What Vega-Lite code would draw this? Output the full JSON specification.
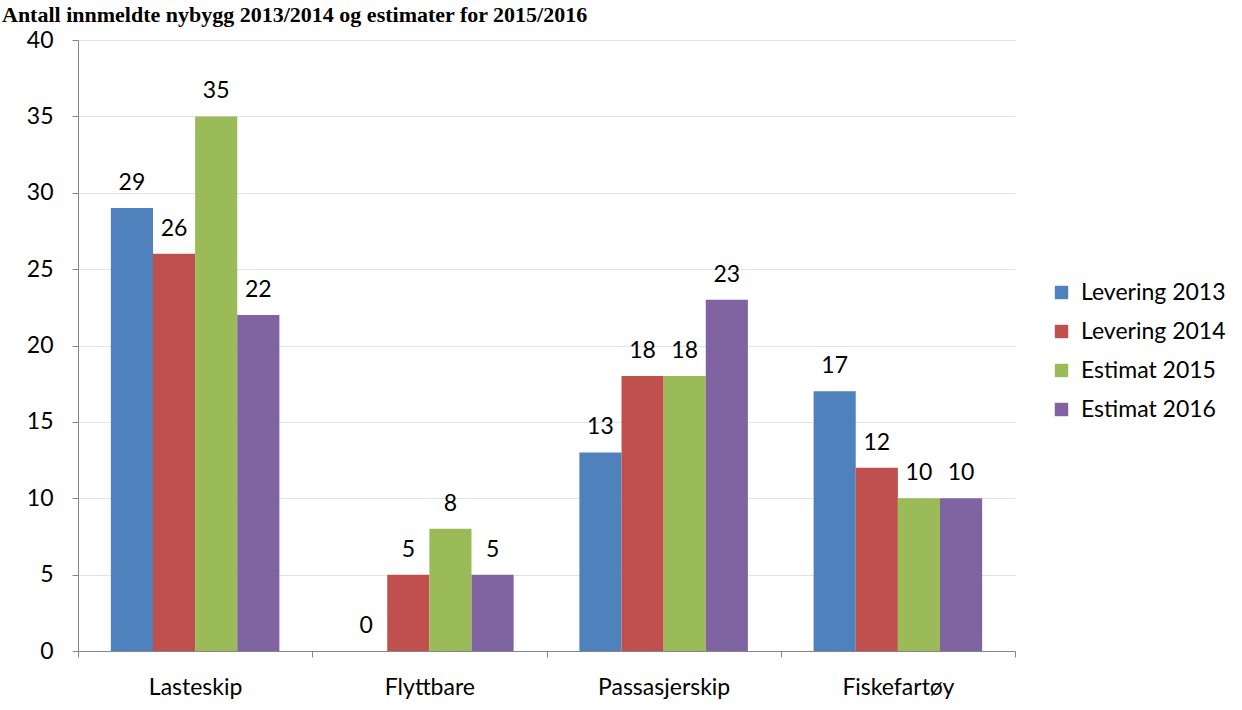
{
  "$schema": "https://vega.github.io/schema/vega-lite/v6.json",
  "width": 937,
  "height": 611,
  "autosize": {"type": "none"},
  "padding": {"left": 78, "top": 40, "right": 227, "bottom": 59},
  "background": "white",
  "title": {
    "text": "Antall innmeldte nybygg 2013/2014 og estimater for 2015/2016",
    "anchor": "start",
    "frame": "group",
    "font": "Liberation Serif",
    "fontSize": 22,
    "fontWeight": "bold",
    "color": "black",
    "baseline": "alphabetic",
    "offset": -15,
    "dx": -76
  },
  "config": {
    "view": {"stroke": null},
    "font": "Lato"
  },
  "data": {
    "values": [
      {"kategori": "Lasteskip", "serie": "Levering 2013", "antall": 29},
      {"kategori": "Lasteskip", "serie": "Levering 2014", "antall": 26},
      {"kategori": "Lasteskip", "serie": "Estimat 2015", "antall": 35},
      {"kategori": "Lasteskip", "serie": "Estimat 2016", "antall": 22},
      {"kategori": "Flyttbare", "serie": "Levering 2013", "antall": 0},
      {"kategori": "Flyttbare", "serie": "Levering 2014", "antall": 5},
      {"kategori": "Flyttbare", "serie": "Estimat 2015", "antall": 8},
      {"kategori": "Flyttbare", "serie": "Estimat 2016", "antall": 5},
      {"kategori": "Passasjerskip", "serie": "Levering 2013", "antall": 13},
      {"kategori": "Passasjerskip", "serie": "Levering 2014", "antall": 18},
      {"kategori": "Passasjerskip", "serie": "Estimat 2015", "antall": 18},
      {"kategori": "Passasjerskip", "serie": "Estimat 2016", "antall": 23},
      {"kategori": "Fiskefartøy", "serie": "Levering 2013", "antall": 17},
      {"kategori": "Fiskefartøy", "serie": "Levering 2014", "antall": 12},
      {"kategori": "Fiskefartøy", "serie": "Estimat 2015", "antall": 10},
      {"kategori": "Fiskefartøy", "serie": "Estimat 2016", "antall": 10}
    ]
  },
  "encoding": {
    "x": {
      "field": "kategori",
      "type": "nominal",
      "sort": ["Lasteskip", "Flyttbare", "Passasjerskip", "Fiskefartøy"],
      "scale": {"paddingInner": 0, "paddingOuter": 0},
      "axis": {
        "title": null,
        "labelAngle": 0,
        "labelFont": "Lato",
        "labelFontSize": 23,
        "labelColor": "black",
        "labelPadding": 19,
        "domainColor": "#868686",
        "tickColor": "#868686",
        "tickBand": "extent",
        "tickSize": 6,
        "grid": false
      }
    },
    "xOffset": {
      "field": "serie",
      "type": "nominal",
      "sort": ["Levering 2013", "Levering 2014", "Estimat 2015", "Estimat 2016"],
      "scale": {"paddingInner": 0, "paddingOuter": 0.78}
    },
    "y": {
      "field": "antall",
      "type": "quantitative",
      "scale": {"domain": [0, 40]},
      "axis": {
        "title": null,
        "values": [0, 5, 10, 15, 20, 25, 30, 35, 40],
        "labelFont": "Lato",
        "labelFontSize": 23,
        "labelColor": "black",
        "labelPadding": 19,
        "domainColor": "#868686",
        "tickColor": "#868686",
        "tickSize": 6,
        "gridColor": "#dde3ef",
        "gridWidth": 1
      }
    }
  },
  "layer": [
    {
      "mark": {"type": "bar"},
      "encoding": {
        "color": {
          "field": "serie",
          "type": "nominal",
          "sort": ["Levering 2013", "Levering 2014", "Estimat 2015", "Estimat 2016"],
          "scale": {
            "domain": ["Levering 2013", "Levering 2014", "Estimat 2015", "Estimat 2016"],
            "range": ["#4F81BD", "#C0504D", "#9BBB59", "#8064A2"]
          },
          "legend": {
            "title": null,
            "orient": "none",
            "legendX": 972,
            "legendY": 241,
            "symbolType": "square",
            "symbolSize": 180,
            "symbolStrokeWidth": 0,
            "labelFont": "Lato",
            "labelFontSize": 23,
            "labelColor": "black",
            "labelOffset": 8,
            "rowPadding": 15
          }
        }
      }
    },
    {
      "mark": {"type": "text", "baseline": "bottom", "dy": -13, "font": "Lato", "fontSize": 23, "color": "black"},
      "encoding": {
        "text": {"field": "antall", "type": "quantitative"}
      }
    }
  ]
}
